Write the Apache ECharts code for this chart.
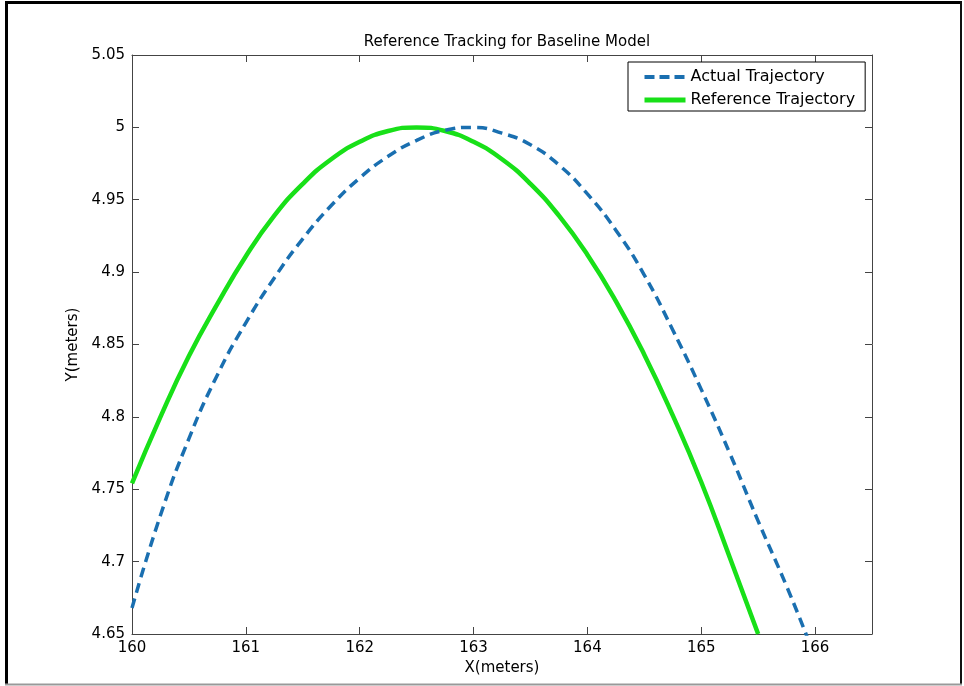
<!DOCTYPE html>
<html>
<head>
<meta charset="utf-8">
<script src="https://cdn.jsdelivr.net/npm/echarts@6/dist/echarts.min.js"></script>
<style>
html,body{margin:0;padding:0;background:#fff;}
#chart{width:964px;height:686px;}
</style>
</head>
<body>
<div id="chart"></div>
<script>
// Reference trajectory (green, solid)
var refX = [160, 160.25, 160.5, 160.75, 161, 161.25, 161.5, 161.75, 162, 162.25, 162.5, 162.75, 163, 163.25, 163.5, 163.75, 164, 164.25, 164.5, 164.75, 165, 165.25, 165.5];
var refY = [4.754, 4.800, 4.842, 4.878, 4.911, 4.939, 4.961, 4.978, 4.990, 4.9975, 5.000, 4.9975, 4.990, 4.978, 4.961, 4.939, 4.912, 4.880, 4.843, 4.801, 4.755, 4.703, 4.650];
// Actual trajectory (blue, dashed)
var actX = [160, 160.25, 160.5, 160.75, 161, 161.25, 161.5, 161.75, 162, 162.25, 162.5, 162.75, 163, 163.25, 163.5, 163.75, 164, 164.25, 164.5, 164.75, 165, 165.25, 165.5, 165.75, 165.93];
var actY = [4.668, 4.732, 4.785, 4.829, 4.865, 4.896, 4.923, 4.946, 4.965, 4.980, 4.991, 4.998, 5.000, 4.996, 4.988, 4.974, 4.954, 4.929, 4.898, 4.860, 4.819, 4.775, 4.728, 4.683, 4.648];
// Axis ticks
var xMin = 160, xMax = 166.5, xStep = 1;
var yMin = 4.65, yMax = 5.05, yStep = 0.05;
var titleText = 'Reference Tracking for Baseline Model';
var xName = 'X(meters)';
var yName = 'Y(meters)';
var actName = 'Actual Trajectory';
var refName = 'Reference Trajectory';

function pairs(xs, ys){ return xs.map(function(x,i){ return [x, ys[i]]; }); }

var FONT = 'DejaVu Sans';
var axisCol = '#444';
var GREEN = '#18e018', BLUE = '#1a6fb0';
var chart = echarts.init(document.getElementById('chart'));
var yFmt = function(v){ return String(+(+v).toFixed(2)); };
chart.setOption({
  animation: false,
  backgroundColor: '#fff',
  title: {
    text: titleText,
    left: 502, top: 30,
    textAlign: 'center',
    textStyle: {fontFamily: FONT, fontSize: 15, fontWeight: 'normal', color: '#000'}
  },
  grid: {left: 132, top: 55, width: 740, height: 579, containLabel: false},
  legend: {
    data: [
      {name: actName, lineStyle: {width: 4, color: BLUE, type: [10, 5]}},
      {name: refName, lineStyle: {width: 5, color: GREEN, type: 'solid'}}
    ],
    orient: 'vertical',
    left: 628, top: 62,
    padding: [7, 10, 3, 14],
    itemWidth: 41, itemHeight: 16, itemGap: 7,
    borderColor: '#000', borderWidth: 1,
    backgroundColor: '#fff',
    itemStyle: {opacity: 0},
    textStyle: {fontFamily: FONT, fontSize: 16, color: '#000'}
  },
  xAxis: [{
    type: 'value', min: xMin, max: xMax, interval: xStep,
    name: xName, nameLocation: 'middle', nameGap: 26,
    nameTextStyle: {fontFamily: FONT, fontSize: 15, color: '#000'},
    axisLine: {show: true, onZero: false, lineStyle: {color: axisCol, width: 1}},
    axisTick: {show: true, inside: true, length: 7, lineStyle: {color: axisCol}},
    axisLabel: {fontFamily: FONT, fontSize: 15, color: '#000', margin: 7, showMaxLabel: false,
      formatter: function(v){ return v === xMax ? '' : String(v); }},
    splitLine: {show: false}
  }, {
    type: 'value', position: 'top', min: xMin, max: xMax, interval: xStep,
    axisLine: {show: true, onZero: false, lineStyle: {color: axisCol, width: 1}},
    axisTick: {show: true, inside: true, length: 7, lineStyle: {color: axisCol}},
    axisLabel: {show: false},
    splitLine: {show: false}
  }],
  yAxis: [{
    type: 'value', min: yMin, max: yMax, interval: yStep,
    name: yName, nameLocation: 'middle', nameGap: 50,
    nameTextStyle: {fontFamily: FONT, fontSize: 15, color: '#000'},
    axisLine: {show: true, onZero: false, lineStyle: {color: axisCol, width: 1}},
    axisTick: {show: true, inside: true, length: 7, lineStyle: {color: axisCol}},
    axisLabel: {fontFamily: FONT, fontSize: 15, color: '#000', margin: 7, formatter: yFmt},
    splitLine: {show: false}
  }, {
    type: 'value', position: 'right', min: yMin, max: yMax, interval: yStep,
    axisLine: {show: true, onZero: false, lineStyle: {color: axisCol, width: 1}},
    axisTick: {show: true, inside: true, length: 7, lineStyle: {color: axisCol}},
    axisLabel: {show: false},
    splitLine: {show: false}
  }],
  graphic: [
    {type: 'line', shape: {x1: 5, y1: 2.5, x2: 962, y2: 2.5}, style: {stroke: '#000', lineWidth: 3}, silent: true},
    {type: 'line', shape: {x1: 6.5, y1: 1, x2: 6.5, y2: 685}, style: {stroke: '#000', lineWidth: 3}, silent: true},
    {type: 'line', shape: {x1: 961, y1: 1, x2: 961, y2: 685}, style: {stroke: '#111', lineWidth: 2}, silent: true},
    {type: 'line', shape: {x1: 5, y1: 684.5, x2: 962, y2: 684.5}, style: {stroke: '#999', lineWidth: 2}, silent: true}
  ],
  series: [{
    name: refName, type: 'line', data: pairs(refX, refY),
    symbol: 'none', smooth: 0.5, clip: true,
    lineStyle: {color: GREEN, width: 4.5},
    itemStyle: {color: GREEN}
  }, {
    name: actName, type: 'line', data: pairs(actX, actY),
    symbol: 'none', smooth: 0.5, clip: true,
    lineStyle: {color: BLUE, width: 3.5, type: [10, 6]},
    itemStyle: {color: BLUE}
  }]
});
</script>
</body>
</html>
